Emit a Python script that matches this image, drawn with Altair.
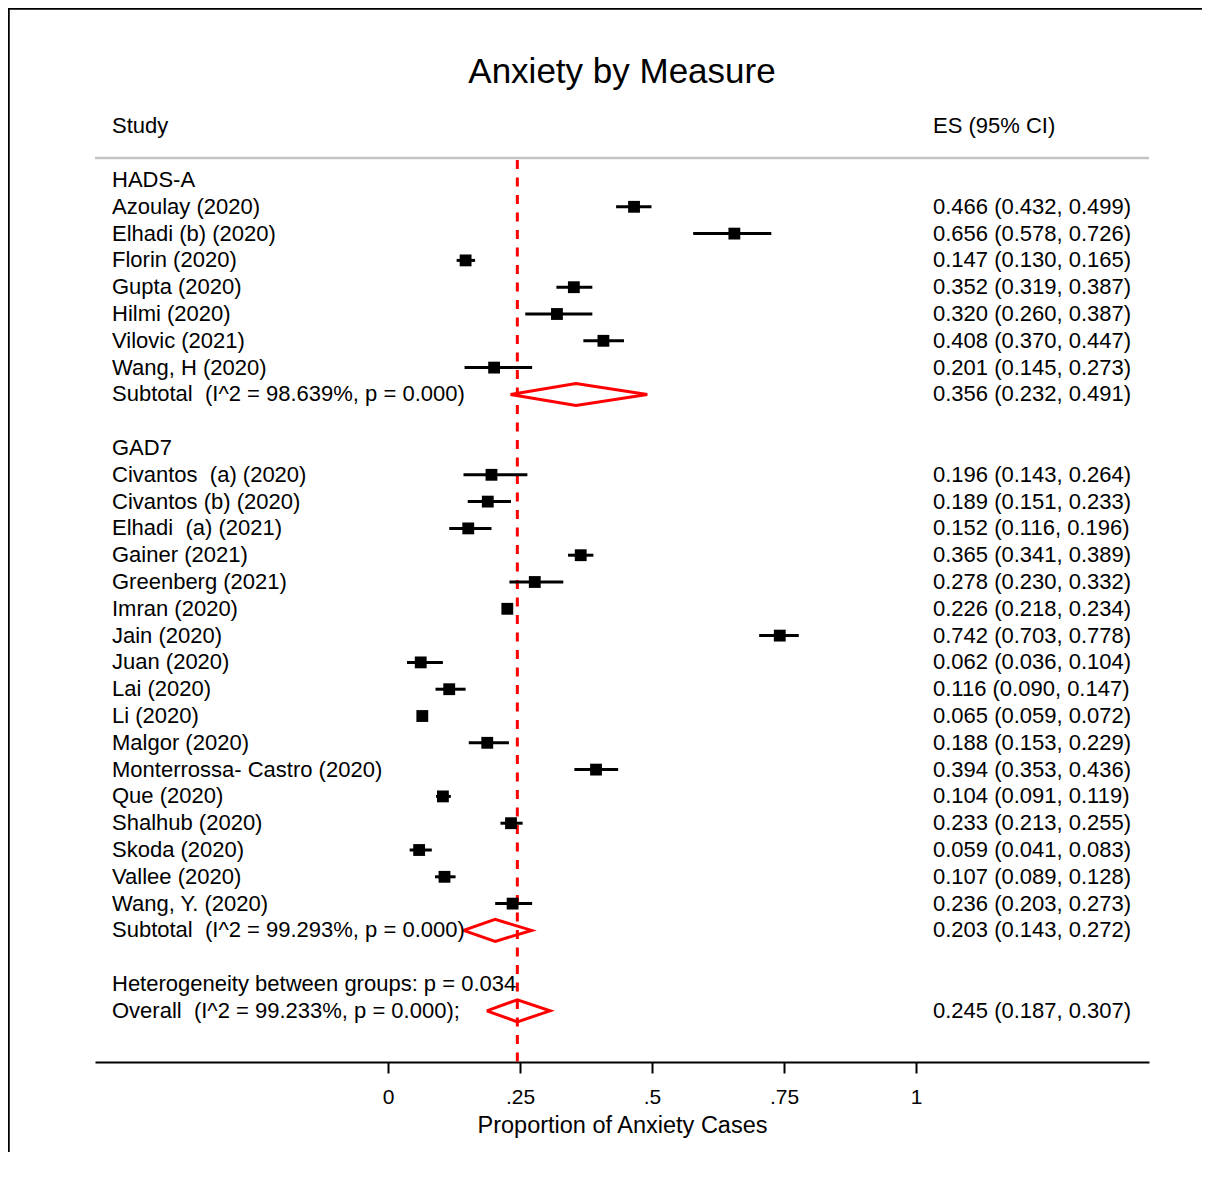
import altair as alt
import pandas as pd

FONT = "Liberation Sans"

# ---------------- data ----------------
group_names = ["HADS-A", "GAD7"]

hads_studies = ["Azoulay (2020)", "Elhadi (b) (2020)", "Florin (2020)", "Gupta (2020)",
                "Hilmi (2020)", "Vilovic (2021)", "Wang, H (2020)"]
hads_es = [0.466, 0.656, 0.147, 0.352, 0.320, 0.408, 0.201]
hads_lo = [0.432, 0.578, 0.130, 0.319, 0.260, 0.370, 0.145]
hads_hi = [0.499, 0.726, 0.165, 0.387, 0.387, 0.447, 0.273]

gad_studies = ["Civantos\u00a0 (a) (2020)", "Civantos (b) (2020)", "Elhadi\u00a0 (a) (2021)",
               "Gainer (2021)", "Greenberg (2021)", "Imran (2020)", "Jain (2020)",
               "Juan (2020)", "Lai (2020)", "Li (2020)", "Malgor (2020)",
               "Monterrossa- Castro (2020)", "Que (2020)", "Shalhub (2020)",
               "Skoda (2020)", "Vallee (2020)", "Wang, Y. (2020)"]
gad_es = [0.196, 0.189, 0.152, 0.365, 0.278, 0.226, 0.742, 0.062, 0.116, 0.065,
          0.188, 0.394, 0.104, 0.233, 0.059, 0.107, 0.236]
gad_lo = [0.143, 0.151, 0.116, 0.341, 0.230, 0.218, 0.703, 0.036, 0.090, 0.059,
          0.153, 0.353, 0.091, 0.213, 0.041, 0.089, 0.203]
gad_hi = [0.264, 0.233, 0.196, 0.389, 0.332, 0.234, 0.778, 0.104, 0.147, 0.072,
          0.229, 0.436, 0.119, 0.255, 0.083, 0.128, 0.273]

subtotal_labels = ["Subtotal\u00a0 (I^2 = 98.639%, p = 0.000)",
                   "Subtotal\u00a0 (I^2 = 99.293%, p = 0.000)"]
subtotal_es = [0.356, 0.203]
subtotal_lo = [0.232, 0.143]
subtotal_hi = [0.491, 0.272]

heterogeneity_label = "Heterogeneity between groups: p = 0.034"
overall_label = "Overall\u00a0 (I^2 = 99.233%, p = 0.000);"
overall_es = 0.245
overall_lo = 0.187
overall_hi = 0.307

tick_values = [0, 0.25, 0.5, 0.75, 1]

# ---------------- table building ----------------
def es_text(e, l, h):
    return f"{e:.3f} ({l:.3f}, {h:.3f})"

studies_rows, left_rows, right_rows, diamond_rows = [], [], [], []
row = 0
group_data = [(hads_studies, hads_es, hads_lo, hads_hi),
              (gad_studies, gad_es, gad_lo, gad_hi)]
for gi, (names, es, lo, hi) in enumerate(group_data):
    left_rows.append({"text": group_names[gi], "row": row})
    row += 1
    for n, e, l, h in zip(names, es, lo, hi):
        studies_rows.append({"es": e, "lo": l, "hi": h, "row": row})
        left_rows.append({"text": n, "row": row})
        right_rows.append({"text": es_text(e, l, h), "row": row})
        row += 1
    left_rows.append({"text": subtotal_labels[gi], "row": row})
    right_rows.append({"text": es_text(subtotal_es[gi], subtotal_lo[gi], subtotal_hi[gi]), "row": row})
    diamond_rows.append((f"g{gi}", subtotal_es[gi], subtotal_lo[gi], subtotal_hi[gi], row))
    row += 2
left_rows.append({"text": heterogeneity_label, "row": row})
row += 1
left_rows.append({"text": overall_label, "row": row})
right_rows.append({"text": es_text(overall_es, overall_lo, overall_hi), "row": row})
diamond_rows.append(("overall", overall_es, overall_lo, overall_hi, row))

HALF = 0.41
dpts = []
for did, e, l, h, r in diamond_rows:
    for k, (px, py) in enumerate([(l, r), (e, r - HALF), (h, r), (e, r + HALF), (l, r)]):
        dpts.append({"did": did, "ord": k, "px": px, "py": py})

studies_df = pd.DataFrame(studies_rows)
left_df = pd.DataFrame(left_rows)
right_df = pd.DataFrame(right_rows)
diamond_df = pd.DataFrame(dpts)
header_df = pd.DataFrame([{"text": "Study", "row": -2, "col": "left"},
                          {"text": "ES (95% CI)", "row": -2, "col": "right"}])
one = pd.DataFrame({"a": [0]})

Y_MIN, Y_MAX = -2.985, 32.91
X_MIN, X_MAX = -0.5549, 1.4413
W, H = 1054, 962

xscale = alt.Scale(domain=[X_MIN, X_MAX], nice=False, zero=False)
yscale = alt.Scale(domain=[Y_MIN, Y_MAX], nice=False, zero=False, reverse=True)
xaxis = alt.Axis(values=tick_values, labelExpr="replace(toString(datum.value), '0.', '.')",
                 title="Proportion of Anxiety Cases", grid=False,
                 domainColor="black", domainWidth=2, tickColor="black", tickWidth=2,
                 tickSize=11, labelFontSize=21, labelColor="black", labelFont=FONT,
                 labelPadding=13, titleFontSize=23.5, titleFont=FONT, titleColor="black",
                 titleFontWeight="normal", titlePadding=6, labelFlush=False)


def X(field):
    return alt.X(field, type="quantitative", scale=xscale, axis=xaxis)


def Y(field):
    return alt.Y(field, type="quantitative", scale=yscale, axis=None)


# frame (decorative)
frame_left = alt.Chart(one).mark_rule(color="black", strokeWidth=2.5).encode(
    x=alt.value(-86.5), y=alt.value(-93), y2=alt.value(H + 100))
frame_top = alt.Chart(one).mark_rule(color="black", strokeWidth=2.5).encode(
    x=alt.value(-88), x2=alt.value(W + 60), y=alt.value(-91.5))

grey = alt.Chart(one).transform_calculate(r="-0.82").mark_rule(
    color="#c4c4c4", strokeWidth=2.5).encode(
    x=alt.value(0), x2=alt.value(W), y=Y("r:Q"))

dash = alt.Chart(pd.DataFrame({"es": [overall_es], "top": [-0.75], "bot": [Y_MAX]})).mark_rule(
    color="#ff0000", strokeWidth=3, strokeDash=[9, 8.5]).encode(
    x=X("es"), y=Y("top"), y2="bot:Q")

ci = alt.Chart(studies_df).mark_rule(color="black", strokeWidth=3).encode(
    x=X("lo"), x2="hi:Q", y=Y("row"))

squares = alt.Chart(studies_df).mark_square(size=140, color="black", filled=True, opacity=1).encode(
    x=X("es"), y=Y("row"))

diamonds = alt.Chart(diamond_df).mark_line(color="#ff0000", strokeWidth=3, strokeJoin="miter").encode(
    x=X("px"), y=Y("py"), order="ord:Q", detail="did:N")

left_text = alt.Chart(left_df).mark_text(align="left", baseline="middle", fontSize=22,
                                         font=FONT, color="black").encode(
    x=alt.value(17), y=Y("row"), text="text:N")

right_text = alt.Chart(right_df).mark_text(align="left", baseline="middle", fontSize=22,
                                           font=FONT, color="black").encode(
    x=alt.value(838), y=Y("row"), text="text:N")

head_left = alt.Chart(header_df[header_df.col == "left"]).mark_text(
    align="left", baseline="middle", fontSize=22, font=FONT, color="black").encode(
    x=alt.value(17), y=Y("row"), text="text:N")
head_right = alt.Chart(header_df[header_df.col == "right"]).mark_text(
    align="left", baseline="middle", fontSize=22, font=FONT, color="black").encode(
    x=alt.value(838), y=Y("row"), text="text:N")

title = alt.Chart(pd.DataFrame({"t": ["Anxiety by Measure"]})).mark_text(
    align="center", baseline="middle", fontSize=35, font=FONT, color="black").encode(
    x=alt.value(W / 2), y=alt.value(-28), text="t:N")

chart = alt.layer(frame_left, frame_top, grey, dash, ci, squares, diamonds,
                  left_text, right_text, head_left, head_right, title).properties(
    width=W, height=H,
    padding={"left": 87, "top": 92, "right": 53, "bottom": 90},
    autosize=alt.AutoSizeParams(type="none"),
    background="white",
).configure_view(strokeWidth=0)

chart.save("out.html", embed_options={"renderer": "svg", "actions": False})
